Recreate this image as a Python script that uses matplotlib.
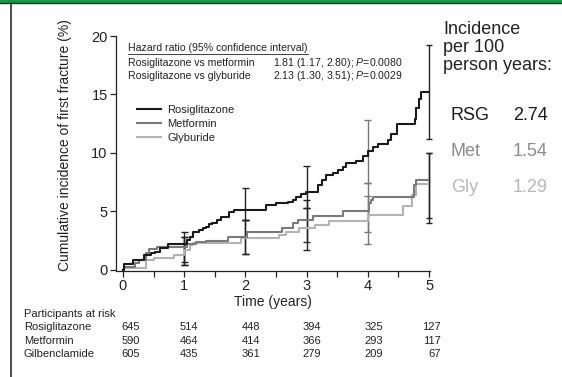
import matplotlib
matplotlib.use('Agg')
import matplotlib.pyplot as plt
from matplotlib.patches import Rectangle
from matplotlib.lines import Line2D
from matplotlib.ticker import MultipleLocator

plt.rcParams['font.family'] = ['Liberation Sans', 'DejaVu Sans']
plt.rcParams['mathtext.fontset'] = 'custom'
plt.rcParams['mathtext.rm'] = 'Liberation Sans'
plt.rcParams['mathtext.it'] = 'Liberation Sans:italic'

# ---------------- data ----------------
rsg_t = [0.0, 0.02, 0.17, 0.34, 0.45, 0.52, 0.6, 0.73, 1.05, 1.09, 1.14, 1.24, 1.30, 1.36, 1.41, 1.46,
         1.54, 1.6, 1.74, 1.82, 2.34, 2.5, 2.69, 2.77, 2.83, 2.91, 2.99, 3.18, 3.25, 3.32, 3.43,
         3.51, 3.59, 3.65, 3.81, 3.92, 4.0, 4.08, 4.16, 4.33, 4.38, 4.47, 4.77, 4.79, 4.84, 4.87, 4.98]
rsg_y = [0.0, 0.48, 0.85, 1.28, 1.42, 1.56, 1.85, 2.2, 2.6, 2.84, 3.27, 3.4, 3.55, 3.7, 3.9, 4.0,
         4.26, 4.5, 4.97, 5.1, 5.54, 5.74, 5.82, 5.97, 6.25, 6.53, 6.68, 7.24, 7.73, 8.1, 8.3,
         8.52, 8.8, 9.18, 9.3, 9.72, 10.17, 10.5, 10.8, 11.14, 11.6, 12.5, 12.9, 13.86, 14.6, 15.2, 15.2]

met_t = [0.0, 0.02, 0.19, 0.26, 0.37, 0.42, 0.55, 1.05, 1.2, 1.35, 1.72, 2.02, 2.6, 2.78, 2.86,
         3.1, 3.6, 4.02, 4.05, 4.08, 4.75, 4.79, 4.98]
met_y = [0.0, 0.28, 0.57, 0.85, 1.42, 1.76, 2.0, 2.2, 2.35, 2.5, 2.85, 3.27, 3.55, 4.0, 4.26,
         4.6, 5.05, 5.74, 5.97, 6.2, 7.25, 7.73, 7.73]

gly_t = [0.0, 0.02, 0.37, 0.5, 0.84, 1.0, 1.1, 1.15, 1.93, 2.55, 2.66, 2.88, 3.13, 3.37, 4.0,
         4.57, 4.73, 4.79, 4.98]
gly_y = [0.0, 0.14, 0.85, 1.0, 1.28, 1.7, 2.13, 2.3, 2.7, 3.0, 3.27, 3.55, 3.84, 4.2, 4.7,
         5.45, 6.4, 7.35, 7.35]

ci_years = [1, 2, 3, 4, 5]
rsg_lo = [0.71, 4.26, 5.3, 7.44, 11.2]
rsg_hi = [3.27, 7.0, 8.86, 12.84, 19.2]
met_lo = [0.43, 1.34, 2.4, 3.27, 4.43]
met_hi = [2.84, 4.26, 5.97, 6.3, 10.0]
gly_lo = [0.43, 1.34, 1.7, 2.2, 4.03]
gly_hi = [2.84, 4.26, 5.3, 7.44, 10.0]

groups = ['Rosiglitazone', 'Metformin', 'Glyburide']
hr_rows = ['Rosiglitazone vs metformin', 'Rosiglitazone vs glyburide']
hr_vals = [r'1.81 (1.17, 2.80); $\it{P}$=0.0080', r'2.13 (1.30, 3.51); $\it{P}$=0.0029']

inc_labels = ['RSG', 'Met', 'Gly']
inc_vals = ['2.74', '1.54', '1.29']

risk_groups = ['Rosiglitazone', 'Metformin', 'Gilbenclamide']
risk_times = [0, 1, 2, 3, 4, 5]
risk_rsg = [645, 514, 448, 394, 325, 127]
risk_met = [590, 464, 414, 366, 293, 117]
risk_gil = [605, 435, 361, 279, 209, 67]

# ---------------- figure ----------------
W, H = 562, 377
fig = plt.figure(figsize=(W / 100, H / 100), dpi=100)


def fx(px):
    return px / W


def fy(py):
    return 1 - py / H


# decorations: green bar on top and left frame line
fig.patches.append(Rectangle((0, fy(3)), 1, 3 / H, transform=fig.transFigure,
                             facecolor='#0f9d48', edgecolor='none'))
fig.lines.append(Line2D([0, 1], [fy(3.2), fy(3.2)], transform=fig.transFigure,
                        color='#2b2b2b', lw=1.0))
fig.lines.append(Line2D([fx(11), fx(11)], [0, fy(3)], transform=fig.transFigure,
                        color='#2b2b2b', lw=1.2))

ax = fig.add_axes([fx(116), fy(271), fx(430) - fx(116), fy(36) - fy(271)])

c_rsg, c_met, c_gly = '#1a1a1a', '#7a7a7a', '#b3b3b3'
eb_colors = ['#222222', '#222222', '#222222', '#777777', '#222222']

# error bars
cap = 0.055
for i, yr in enumerate(ci_years):
    col = eb_colors[i]
    for lo, hi in [(rsg_lo[i], rsg_hi[i]), (met_lo[i], met_hi[i]), (gly_lo[i], gly_hi[i])]:
        ax.vlines(yr, lo, hi, color=col, lw=1.0, zorder=2, clip_on=False)
        ax.hlines([lo, hi], yr - cap, yr + cap, color=col, lw=1.0, zorder=2, clip_on=False)

ax.step(gly_t, gly_y, where='post', color=c_gly, lw=1.5, label=groups[2], zorder=3)
ax.step(met_t, met_y, where='post', color=c_met, lw=1.5, label=groups[1], zorder=4)
ax.step(rsg_t, rsg_y, where='post', color=c_rsg, lw=1.5, label=groups[0], zorder=5)

ax.set_xlim(-0.114, 5.016)
ax.set_ylim(-0.09, 20)
ax.spines['top'].set_visible(False)
ax.spines['right'].set_visible(False)
for s in ['left', 'bottom']:
    ax.spines[s].set_linewidth(0.9)
    ax.spines[s].set_color('#222222')
ax.spines['left'].set_bounds(0, 20)
ax.xaxis.set_major_locator(MultipleLocator(1))
ax.xaxis.set_minor_locator(MultipleLocator(0.5))
ax.yaxis.set_major_locator(MultipleLocator(5))
ax.tick_params(axis='both', which='both', direction='out', length=4, width=0.9,
               color='#222222', labelsize=10.5, labelcolor='#222222')
ax.tick_params(axis='x', pad=2)
ax.tick_params(axis='y', pad=2)
ax.set_xlabel('Time (years)', fontsize=10, color='#222222', labelpad=1)
ax.set_ylabel('Cumulative incidence of first fracture (%)', fontsize=10, color='#222222')
ax.yaxis.set_label_coords((72 - 116) / 314, (271 - 145) / 235)

# legend
h, l = ax.get_legend_handles_labels()
order = [2, 1, 0]
leg = ax.legend([h[k] for k in order], [l[k] for k in order], loc='upper left',
                bbox_to_anchor=((137 - 116) / 314, (271 - 105) / 235), frameon=False,
                fontsize=8, handlelength=2.2, handletextpad=0.5, labelspacing=0.35,
                borderpad=0, borderaxespad=0)
for t in leg.get_texts():
    t.set_color('#222222')

# hazard ratio block
hr_fs = 7.6
title = ax.text((128 - 116) / 314, (271 - 48) / 235,
                'Hazard ratio (95% confidence interval)', transform=ax.transAxes,
                fontsize=hr_fs, va='center', ha='left', color='#222222')
for i, (r, v) in enumerate(zip(hr_rows, hr_vals)):
    ypx = 62.5 + 13.5 * i
    ax.text((128 - 116) / 314, (271 - ypx) / 235, r, transform=ax.transAxes,
            fontsize=hr_fs, va='center', ha='left', color='#222222')
    ax.text((273 - 116) / 314, (271 - ypx) / 235, v, transform=ax.transAxes,
            fontsize=hr_fs, va='center', ha='left', color='#222222')

# underline the title
fig.canvas.draw()
bb = title.get_window_extent()
fig.lines.append(Line2D([bb.x0 / W, bb.x1 / W], [(bb.y0 - 0.5) / H, (bb.y0 - 0.5) / H],
                        transform=fig.transFigure, color='#222222', lw=0.6))

# right side incidence text
for i, s in enumerate(['Incidence', 'per 100', 'person years:']):
    fig.text(fx(443), fy(30 + 17.5 * i), s, fontsize=13, va='center', ha='left',
             color='#222222')
inc_colors = ['#1a1a1a', '#8c8c8c', '#b8b8b8']
for i in range(3):
    ypx = 115 + 36.5 * i
    fig.text(fx(451), fy(ypx), inc_labels[i], fontsize=13, va='center', ha='left',
             color=inc_colors[i])
    fig.text(fx(548), fy(ypx), inc_vals[i], fontsize=13, va='center', ha='right',
             color=inc_colors[i])

# participants at risk table
tfs = 8
fig.text(fx(24), fy(314), 'Participants at risk', fontsize=tfs, va='center', ha='left',
         color='#222222')
col_right_px = [140, 198, 260, 321, 383, 441]
for j, (name, vals) in enumerate(zip(risk_groups, [risk_rsg, risk_met, risk_gil])):
    ypx = 327.5 + 13.3 * j
    fig.text(fx(24), fy(ypx), name, fontsize=tfs, va='center', ha='left', color='#222222')
    for k, v in enumerate(vals):
        fig.text(fx(col_right_px[k]), fy(ypx), str(v), fontsize=tfs, va='center',
                 ha='right', color='#222222')

fig.savefig('out.png', dpi=100)
